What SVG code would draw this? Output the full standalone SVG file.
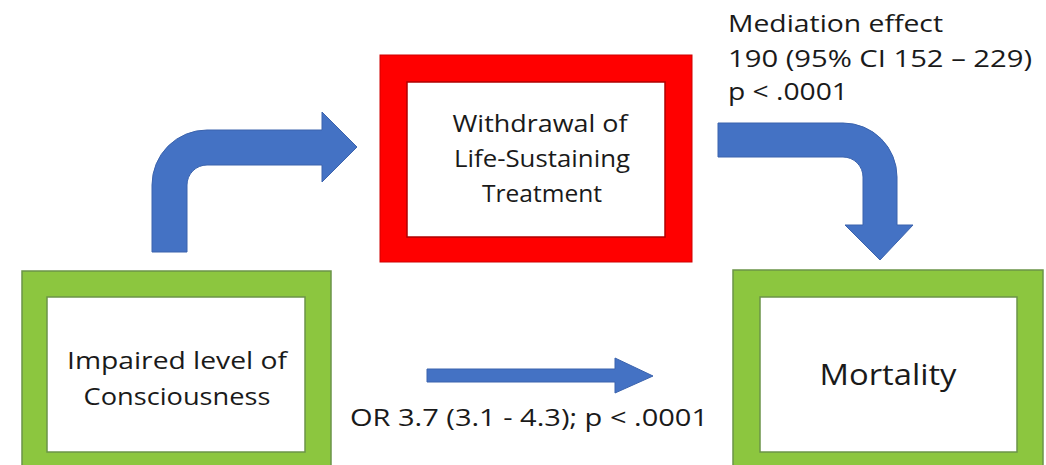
<svg xmlns="http://www.w3.org/2000/svg" width="1046" height="465" viewBox="0 0 1046 465">
<style>
text{font-family:"Open Sans","Liberation Sans",sans-serif;fill:#1a1a1a}
.t{font-size:23px}
.c{text-anchor:middle}
.arrow{fill:#4472C4;stroke:#3b63ad;stroke-width:1}
.green{fill:#8CC63F;stroke:#6b9448;stroke-width:1.5}
.red{fill:#FF0000;stroke:#d00000;stroke-width:1}
.inner{fill:#ffffff}
.ig{stroke:#6b9448;stroke-width:1.5}
.ir{stroke:#b00000;stroke-width:1.5}
</style>
<rect width="1046" height="465" fill="#ffffff"/>
<g id="connectors">
<path class="arrow" d="M152,252 L152,185 A55,55 0 0 1 207,130 L322,130 L322,112 L357,147 L322,182 L322,165 L207,165 A20,20 0 0 0 187,185 L187,252 Z"/>
<path class="arrow" d="M718,123 L843,123 A54,54 0 0 1 897,177 L897,225 L913,225 L880,260 L845,225 L863,225 L863,177 A20,20 0 0 0 843,157 L718,157 Z"/>
<path class="arrow" d="M427,369 L615,369 L615,358 L653,376 L615,393 L615,382 L427,382 Z"/>
<text class="t" x="350" y="426" textLength="358" lengthAdjust="spacingAndGlyphs">OR 3.7 (3.1 - 4.3); p &lt; .0001</text>
<text class="t" x="728" y="32" textLength="215" lengthAdjust="spacingAndGlyphs">Mediation effect</text>
<text class="t" x="728" y="67" textLength="304" lengthAdjust="spacingAndGlyphs">190 (95% CI 152 – 229)</text>
<text class="t" x="728" y="100" textLength="120" lengthAdjust="spacingAndGlyphs">p &lt; .0001</text>
</g>
<g id="node-wlst">
<rect class="red" x="380" y="55" width="312" height="207"/>
<rect class="inner ir" x="407" y="82" width="258" height="155"/>
<text class="t c" x="540" y="132" textLength="175" lengthAdjust="spacingAndGlyphs">Withdrawal of</text>
<text class="t c" x="542" y="167" textLength="176" lengthAdjust="spacingAndGlyphs">Life-Sustaining</text>
<text class="t c" x="542" y="202" textLength="120" lengthAdjust="spacingAndGlyphs">Treatment</text>
</g>
<g id="node-consciousness">
<rect class="green" x="22" y="271" width="309" height="210"/>
<rect class="inner ig" x="47" y="297" width="258" height="155"/>
<text class="t c" x="177" y="369" textLength="220" lengthAdjust="spacingAndGlyphs">Impaired level of</text>
<text class="t c" x="177" y="405" textLength="187" lengthAdjust="spacingAndGlyphs">Consciousness</text>
</g>
<g id="node-mortality">
<rect class="green" x="733" y="270" width="310" height="211"/>
<rect class="inner ig" x="760" y="297" width="257" height="155"/>
<text class="c" x="888" y="385" font-size="30" textLength="137" lengthAdjust="spacingAndGlyphs">Mortality</text>
</g>
</svg>
